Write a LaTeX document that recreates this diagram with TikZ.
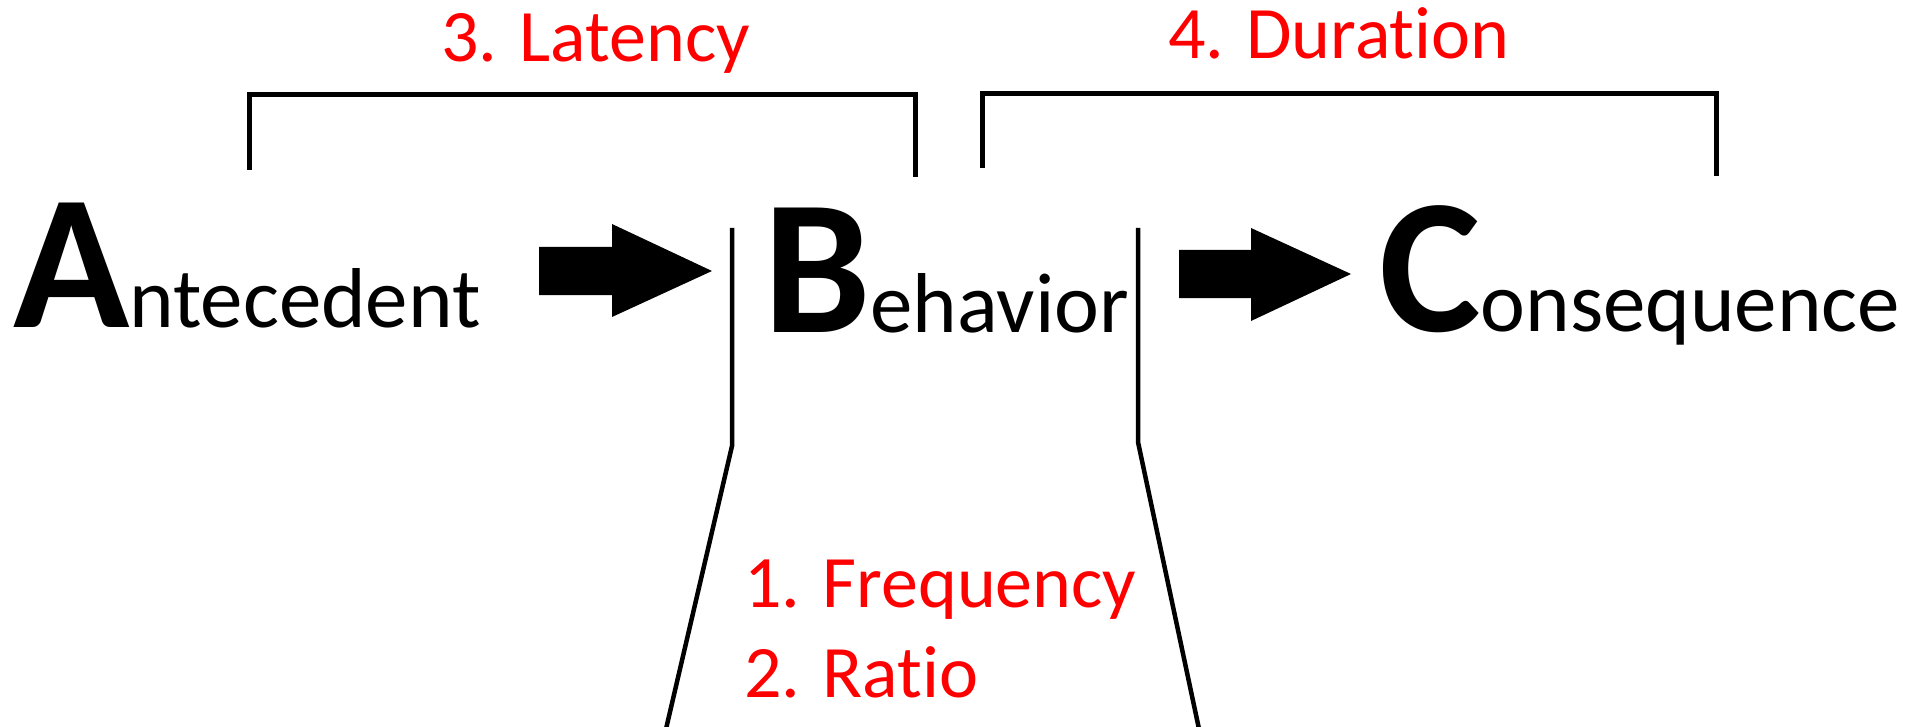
\documentclass[tikz,border=0pt]{standalone}
\usepackage{fontspec}
\setmainfont{Carlito}[RawFeature=-liga]
\newcommand\abcInitial[1]{{\bfseries\fontsize{192}{192}\selectfont #1}}
\newcommand\abcRest[1]{{\fontsize{85}{85}\selectfont #1}}
\begin{document}
\begin{tikzpicture}[x=1pt,y=-1pt,
  word/.style={anchor=base west, inner sep=0pt, outer sep=0pt},
  measure/.style={anchor=base west, inner sep=0pt, outer sep=0pt, text=red,
    font=\fontsize{74}{74}\selectfont},
  rule/.style={line width=5pt, line join=miter},
  funnel/.style={line width=4.5pt, line join=miter},
  blockarrow/.style={fill=black}]
\useasboundingbox (0,0) rectangle (1905,727);

% the three terms of the sequence
\node[word] (ante) at (13,327) {\abcInitial{A}\abcRest{ntecedent}};
\node[word] (beh)  at (763,332) {\abcInitial{B}\abcRest{ehavior}};
\node[word] (cons) at (1379,331) {\abcInitial{C}\abcRest{onsequence}};

% block arrows between the terms
\fill[blockarrow] (539,247) -- (612,247) -- (612,224) -- (712,271)
  -- (612,317) -- (612,295) -- (539,295) -- cycle;
\fill[blockarrow] (1179,250) -- (1251,250) -- (1251,228) -- (1351,274)
  -- (1251,321) -- (1251,298) -- (1179,298) -- cycle;

% brackets spanning the intervals
\draw[rule] (249,170) -- (249,95) -- (915,95) -- (915,177);
\draw[rule] (982,168) -- (982,94) -- (1716,94) -- (1716,176);

% funnel opening below the behaviour
\draw[funnel] (732,228) -- (732,446) -- (666,729);
\draw[funnel] (1138,228) -- (1138,442) -- (1199,729);

% measures
\node[measure] (lat) at (441,62) {3. Latency};
\node[measure] (dur) at (1168,59) {4. Duration};
\node[measure] (freq) at (744,607) {1. Frequency};
\node[measure] (ratio) at (744,697) {2. Ratio};
\end{tikzpicture}
\end{document}
